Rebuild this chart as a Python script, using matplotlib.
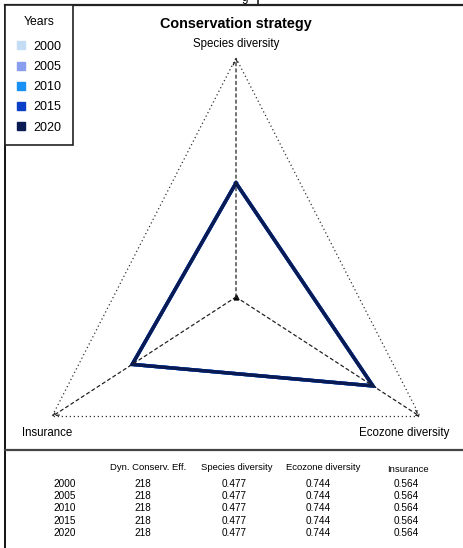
from matplotlib import pyplot as plt
from matplotlib.lines import Line2D
import numpy as np

plt.rcParams['font.family'] = ['Liberation Sans', 'DejaVu Sans']

# data
years = ['2000', '2005', '2010', '2015', '2020']
colors = ['#c4dcf4', '#8a9ef0', '#1890f4', '#0a40c8', '#0a1a52']
axes_names = ['Species diversity', 'Ecozone diversity', 'Insurance']
dyn_eff = [218, 218, 218, 218, 218]
species = [0.477, 0.477, 0.477, 0.477, 0.477]
ecozone = [0.744, 0.744, 0.744, 0.744, 0.744]
insurance = [0.564, 0.564, 0.564, 0.564, 0.564]
col_heads = ['Dyn. Conserv. Eff.', 'Species diversity', 'Ecozone diversity', 'Insurance']

W, H = 463, 548
fig = plt.figure(figsize=(W/100, H/100), dpi=100)

# pixel axes for frame lines and text
deco = fig.add_axes([0, 0, 1, 1])
deco.set_xlim(0, W)
deco.set_ylim(H, 0)
deco.axis('off')

# radar axes, center of triangle at (236, 297) px
ax = fig.add_axes([0, 0, 1, 1])
ax.set_xlim(-236/212.5, (W-236)/212.5)
ax.set_ylim((297-H)/239, 297/239)
ax.axis('off')
ax.patch.set_alpha(0)

angles = np.radians([90, -30, 210])
vx, vy = np.cos(angles), np.sin(angles)

# outer dotted triangle
ax.plot(np.append(vx, vx[0]), np.append(vy, vy[0]), color='#333333', lw=0.9, ls=(0, (1, 2.2)))
# dashed spokes with arrow heads
for i in range(3):
    ax.annotate('', xy=(vx[i], vy[i]), xytext=(0, 0),
                arrowprops=dict(arrowstyle='->', lw=0.9, ls=(0, (2.5, 2.5)), color='#222222',
                                shrinkA=0, shrinkB=0, mutation_scale=10))
ax.plot([0], [0], marker='^', ms=3.5, color='black')

# year polygons
for k in range(len(years)):
    vals = np.array([species[k], ecozone[k], insurance[k]])
    px, py = vals*vx, vals*vy
    ax.plot(np.append(px, px[0]), np.append(py, py[0]), color=colors[k], lw=2.5,
            solid_joinstyle='miter')

# axis labels
deco.text(236, 44, axes_names[0], ha='center', va='center', fontsize=8.3)
deco.text(449, 433, axes_names[1], ha='right', va='center', fontsize=8.3)
deco.text(22, 433, axes_names[2], ha='left', va='center', fontsize=8.3)
deco.text(236, 24, 'Conservation strategy', ha='center', va='center', fontsize=10.4, fontweight='bold')

# frame lines
deco.plot([5, W], [5, 5], color='#222222', lw=1.6)
deco.plot([258, 258], [0, 5], color='#222222', lw=1.2)
deco.text(245, 1, 'g', ha='center', va='baseline', fontsize=8.3, clip_on=False)
deco.plot([5, 5], [5, H], color='#111111', lw=1.4)
deco.plot([5, W], [450, 450], color='#444444', lw=1.6)

# legend
handles = [Line2D([], [], marker='s', ls='none', ms=5.5, color=c) for c in colors]
leg = fig.legend(handles, years, title='Years', loc='upper left',
                 bbox_to_anchor=(5/W, 1-5/H), borderaxespad=0, fontsize=9,
                 title_fontsize=8.8, frameon=True, fancybox=False, edgecolor='#222222',
                 framealpha=1, handlelength=0.8, handletextpad=0.6, labelspacing=0.66,
                 borderpad=0.9)
leg.get_frame().set_linewidth(1.2)
leg._legend_box.sep = 9

# table
head_x = [148, 237, 323, 408]
val_x = [143, 234, 318, 406]
for j, name in enumerate(col_heads):
    deco.text(head_x[j], 467 if j < 3 else 469, name, ha='center', va='center', fontsize=6.8)
for i, y in enumerate(years):
    ry = 484 + i*12.2
    deco.text(53, ry, y, ha='left', va='center', fontsize=7.2)
    row = [str(dyn_eff[i]), '%.3f' % species[i], '%.3f' % ecozone[i], '%.3f' % insurance[i]]
    for j, v in enumerate(row):
        deco.text(val_x[j], ry, v, ha='center', va='center', fontsize=7.2)

fig.savefig('out.png', dpi=100)
